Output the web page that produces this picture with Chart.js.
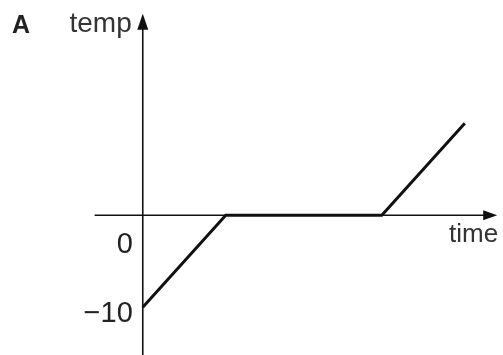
<!DOCTYPE html>
<html>
<head>
<meta charset="utf-8">
<script src="https://cdn.jsdelivr.net/npm/chart.js@4"></script>
<style>
  html, body { margin: 0; padding: 0; background: #fff; }
  canvas { display: block; }
</style>
</head>
<body>
<canvas id="chart" width="503" height="355"></canvas>
<script>
// values
const timeValues = [0, 10, 28.8, 38.8]
const tempValues = [-10, 0, 0, 10]
const yTickLabels = [{ value: -10, text: '\u221210' }]
const originLabel = '0'
const xAxisTitle = 'time'
const yAxisTitle = 'temp'
const panelLetter = 'A'

// visible window, in data units
const xMin = -17.2, xMax = 43.4
const yMin = -15.2, yMax = 23.4
// where the drawn axes start and end
const xAxisFrom = -5.8, xAxisTo = 42.7
const yAxisTo = 21.9

const points = timeValues.map((t, i) => ({ x: t, y: tempValues[i] }))

function arrowHead(ctx, x, y, dir) {
  // dir: 'up' or 'right'
  ctx.beginPath()
  if (dir === 'up') {
    ctx.moveTo(x, y)
    ctx.lineTo(x - 5.5, y + 16)
    ctx.lineTo(x + 5.5, y + 16)
  } else {
    ctx.moveTo(x, y)
    ctx.lineTo(x - 14, y - 5)
    ctx.lineTo(x - 14, y + 5)
  }
  ctx.closePath()
  ctx.fill()
}

const axesPlugin = {
  id: 'arrowAxes',
  beforeDatasetsDraw(chart) {
    const { ctx, scales: { x, y } } = chart
    const x0 = x.getPixelForValue(0)
    const y0 = y.getPixelForValue(0)
    ctx.save()
    ctx.strokeStyle = '#111'
    ctx.fillStyle = '#111'
    ctx.lineWidth = 1.6

    // horizontal axis
    ctx.beginPath()
    ctx.moveTo(x.getPixelForValue(xAxisFrom), y0)
    ctx.lineTo(x.getPixelForValue(xAxisTo) - 10, y0)
    ctx.stroke()
    arrowHead(ctx, x.getPixelForValue(xAxisTo), y0, 'right')

    // vertical axis
    ctx.beginPath()
    ctx.moveTo(x0, y.getPixelForValue(yMin))
    ctx.lineTo(x0, y.getPixelForValue(yAxisTo) + 10)
    ctx.stroke()
    arrowHead(ctx, x0, y.getPixelForValue(yAxisTo), 'up')
    ctx.restore()
  },
  afterDraw(chart) {
    const { ctx, scales: { x, y } } = chart
    const x0 = x.getPixelForValue(0)
    const y0 = y.getPixelForValue(0)
    ctx.save()
    ctx.fillStyle = '#222'
    ctx.textAlign = 'right'
    ctx.textBaseline = 'alphabetic'

    ctx.font = '29px "Liberation Sans", Arial, sans-serif'
    ctx.fillText(originLabel, x0 - 10, y0 + 38)
    yTickLabels.forEach(t => {
      ctx.fillText(t.text, x0 - 10, y.getPixelForValue(t.value) + 15)
    })

    ctx.fillStyle = '#333'
    ctx.font = '26px "Liberation Sans", Arial, sans-serif'
    ctx.fillText(xAxisTitle, x.getPixelForValue(xAxisTo) + 1, y0 + 27)
    ctx.font = '28px "Liberation Sans", Arial, sans-serif'
    ctx.fillText(yAxisTitle, x0 - 11, y.getPixelForValue(yAxisTo) + 18)

    ctx.fillStyle = '#222'
    ctx.textAlign = 'left'
    ctx.font = 'bold 25px "Liberation Sans", Arial, sans-serif'
    ctx.fillText(panelLetter, 12, 33)
    ctx.restore()
  }
}

new Chart(document.getElementById('chart'), {
  type: 'scatter',
  data: {
    datasets: [{
      data: points,
      showLine: true,
      borderColor: '#111',
      borderWidth: 3,
      pointRadius: 0,
      fill: false,
      tension: 0
    }]
  },
  options: {
    responsive: false,
    animation: false,
    devicePixelRatio: 1,
    layout: { padding: 0 },
    plugins: {
      legend: { display: false },
      tooltip: { enabled: false }
    },
    scales: {
      x: { type: 'linear', min: xMin, max: xMax, display: false },
      y: { type: 'linear', min: yMin, max: yMax, display: false }
    }
  },
  plugins: [axesPlugin]
})
</script>
</body>
</html>
